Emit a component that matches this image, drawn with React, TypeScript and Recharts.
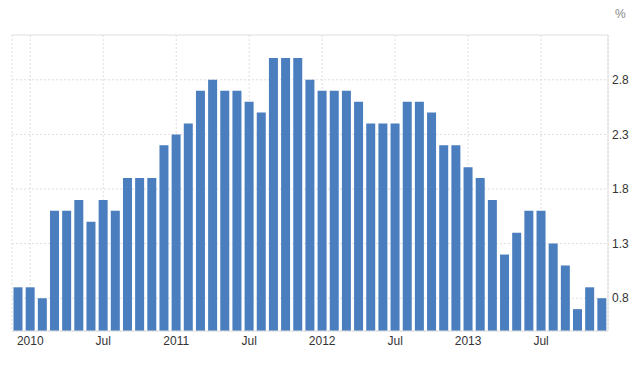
import { BarChart, Bar, XAxis, YAxis, CartesianGrid, ReferenceLine } from 'recharts'

const MONTHS = [
  '2009-12',
  '2010-01', '2010-02', '2010-03', '2010-04', '2010-05', '2010-06',
  '2010-07', '2010-08', '2010-09', '2010-10', '2010-11', '2010-12',
  '2011-01', '2011-02', '2011-03', '2011-04', '2011-05', '2011-06',
  '2011-07', '2011-08', '2011-09', '2011-10', '2011-11', '2011-12',
  '2012-01', '2012-02', '2012-03', '2012-04', '2012-05', '2012-06',
  '2012-07', '2012-08', '2012-09', '2012-10', '2012-11', '2012-12',
  '2013-01', '2013-02', '2013-03', '2013-04', '2013-05', '2013-06',
  '2013-07', '2013-08', '2013-09', '2013-10', '2013-11', '2013-12',
]

const RATES = [
  0.9,
  0.9, 0.8, 1.6, 1.6, 1.7, 1.5,
  1.7, 1.6, 1.9, 1.9, 1.9, 2.2,
  2.3, 2.4, 2.7, 2.8, 2.7, 2.7,
  2.6, 2.5, 3.0, 3.0, 3.0, 2.8,
  2.7, 2.7, 2.7, 2.6, 2.4, 2.4,
  2.4, 2.6, 2.6, 2.5, 2.2, 2.2,
  2.0, 1.9, 1.7, 1.2, 1.4, 1.6,
  1.6, 1.3, 1.1, 0.7, 0.9, 0.8,
]

const X_TICKS = ['2010-01', '2010-07', '2011-01', '2011-07', '2012-01', '2012-07', '2013-01', '2013-07']
const X_TICK_LABELS = ['2010', 'Jul', '2011', 'Jul', '2012', 'Jul', '2013', 'Jul']

const Y_TICKS = [0.8, 1.3, 1.8, 2.3, 2.8]
const Y_MIN = 0.5
const Y_MAX = 3.21

const data = MONTHS.map((m, i) => ({ month: m, rate: RATES[i] }))

const GRID = '#dedede'
const BAR_BLUE = '#4a7ebe'
const FONT = '"Liberation Sans", Arial, sans-serif'

function formatMonth(value: string): string {
  const idx = X_TICKS.indexOf(value)
  return idx >= 0 ? X_TICK_LABELS[idx] : ''
}

export default function App() {
  return (
    <div style={{ position: 'absolute', left: 0, top: 0, width: 642, height: 381, background: '#fff' }}>
      <div
        style={{
          position: 'absolute',
          left: 615,
          top: 7,
          fontFamily: FONT,
          fontSize: 12,
          color: '#888',
        }}
      >
        %
      </div>
      <BarChart
        width={642}
        height={381}
        data={data}
        margin={{ top: 35, right: 0, left: 12, bottom: 0 }}
        barCategoryGap={1.5}
      >
        <CartesianGrid yAxisId="right" stroke={GRID} strokeDasharray="2 2" />
        <ReferenceLine yAxisId="right" y={Y_MAX} stroke={GRID} strokeDasharray="2 2" />
        <XAxis
          dataKey="month"
          ticks={X_TICKS}
          interval={0}
          tickFormatter={formatMonth}
          tickLine={false}
          tickSize={3}
          tickMargin={2}
          axisLine={{ stroke: GRID }}
          height={50}
          tick={{ fill: '#333', fontSize: 12, fontFamily: FONT }}
        />
        <YAxis
          yAxisId="left"
          orientation="left"
          width={0}
          domain={[Y_MIN, Y_MAX]}
          tick={false}
          tickLine={false}
          axisLine={{ stroke: GRID }}
        />
        <YAxis
          yAxisId="right"
          orientation="right"
          width={34}
          domain={[Y_MIN, Y_MAX]}
          ticks={Y_TICKS}
          tickFormatter={(v: number) => v.toFixed(1)}
          tickLine={false}
          tickSize={4}
          tickMargin={0}
          axisLine={{ stroke: GRID }}
          tick={{ fill: '#333', fontSize: 12, fontFamily: FONT, textAnchor: 'start' }}
        />
        <Bar yAxisId="right" dataKey="rate" fill={BAR_BLUE} isAnimationActive={false} />
      </BarChart>
    </div>
  )
}
